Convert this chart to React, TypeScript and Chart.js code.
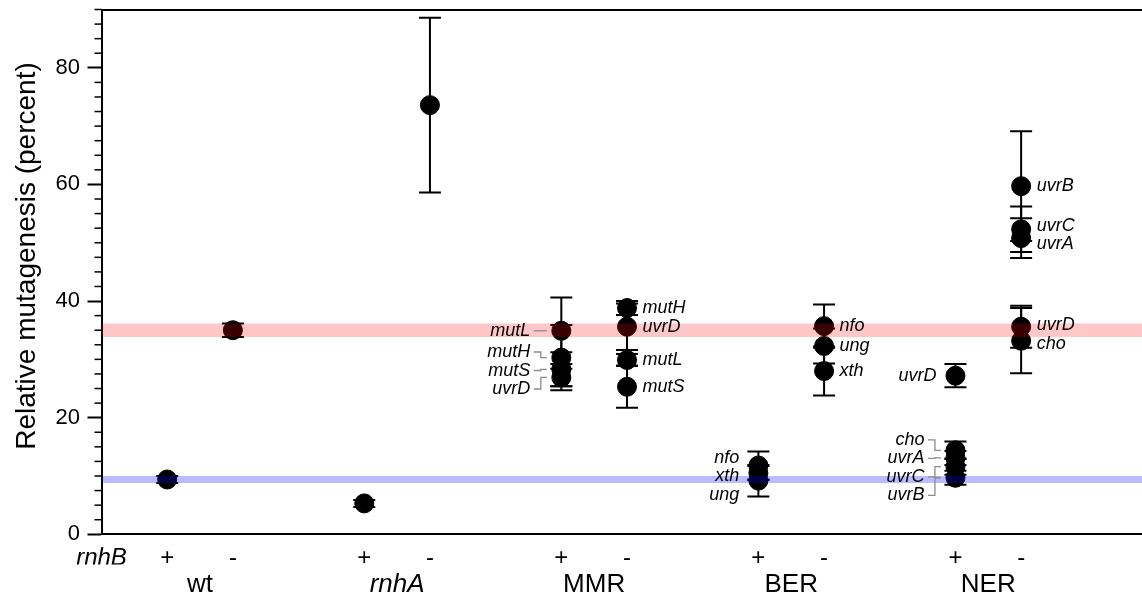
import React, { useEffect, useRef } from 'react';
import { Chart, registerables } from 'chart.js';

Chart.register(...registerables);

// ---------- data ----------
const groups = ['wt', 'rnhA', 'MMR', 'BER', 'NER'];
const italicGroups = ['rnhA'];
const rnhBStates = ['+', '-'];
const rnhBLabel = 'rnhB';
const yTicks = [0, 20, 40, 60, 80];
const yMax = 90;
const yMinorStep = 2.5;
const xMax = 15.84;
const yTitle = 'Relative mutagenesis (percent)';

// values ordered [rnhB+, rnhB-]
const wtMean = [9.4, 35.0];
const wtErr = [0.6, 1.15];
const rnhAMean = [5.3, 73.6];
const rnhAErr = [0.6, 15.0];

const mmrGenes = ['mutH', 'mutL', 'mutS', 'uvrD'];
const mmrPlusMean = [30.3, 34.9, 28.3, 26.9];
const mmrPlusErr = [5.6, 5.7, 2.9, 1.5];
const mmrMinusMean = [38.8, 29.9, 25.3, 35.6];
const mmrMinusErr = [1.2, 1.0, 3.6, 4.0];

const berGenes = ['nfo', 'ung', 'xth'];
const berPlusMean = [11.8, 9.2, 10.5];
const berPlusErr = [2.4, 2.7, 1.2];
const berMinusMean = [35.7, 32.3, 28.0];
const berMinusErr = [3.7, 3.0, 4.2];

const nerGenes = ['cho', 'uvrA', 'uvrB', 'uvrC', 'uvrD'];
const nerPlusMean = [14.4, 13.1, 9.7, 11.6, 27.2];
const nerPlusErr = [1.5, 1.2, 1.2, 1.4, 2.0];
const nerMinusMean = [33.2, 50.8, 59.7, 52.3, 35.6];
const nerMinusErr = [5.6, 3.4, 9.4, 3.9, 3.6];

const leaderColumns = ['MMR+', 'NER+'];

// ---------- derived ----------
const FONT = '"Liberation Sans", Arial, Helvetica, sans-serif';
const slot = (gi: number, si: number) => 1 + 3 * gi + si;

type Col = { id: string; x: number; state: number; genes: string[] | null; mean: number[]; err: number[] };
const columns: Col[] = [];
const addGroup = (gi: number, genes: string[] | null, means: number[][], errs: number[][]) => {
  rnhBStates.forEach((s, si) => {
    columns.push({ id: groups[gi] + s, x: slot(gi, si), state: si, genes, mean: means[si], err: errs[si] });
  });
};
addGroup(0, null, [[wtMean[0]], [wtMean[1]]], [[wtErr[0]], [wtErr[1]]]);
addGroup(1, null, [[rnhAMean[0]], [rnhAMean[1]]], [[rnhAErr[0]], [rnhAErr[1]]]);
addGroup(2, mmrGenes, [mmrPlusMean, mmrMinusMean], [mmrPlusErr, mmrMinusErr]);
addGroup(3, berGenes, [berPlusMean, berMinusMean], [berPlusErr, berMinusErr]);
addGroup(4, nerGenes, [nerPlusMean, nerMinusMean], [nerPlusErr, nerMinusErr]);

const points = columns.flatMap((c) => c.mean.map((m, i) => ({ x: c.x, y: m, err: c.err[i] })));

const xTickValues = [0, ...groups.flatMap((_, gi) => rnhBStates.map((_, si) => slot(gi, si)))];
const xTickLabels = [rnhBLabel, ...groups.flatMap(() => rnhBStates)];
const groupTickValues = groups.map((_, gi) => (slot(gi, 0) + slot(gi, 1)) / 2);

const bandColors = ['rgba(0,0,255,0.27)', 'rgba(255,0,0,0.22)'];

// ---------- plugins ----------
const errorBarPlugin = {
  id: 'errorBars',
  beforeDatasetDraw(chart: any, args: any) {
    if (args.index !== 0) return;
    const { ctx } = chart;
    const xs = chart.scales.x;
    const ys = chart.scales.y;
    ctx.save();
    ctx.strokeStyle = '#000';
    ctx.lineWidth = 2;
    points.forEach((p) => {
      const px = xs.getPixelForValue(p.x);
      const y1 = ys.getPixelForValue(p.y - p.err);
      const y2 = ys.getPixelForValue(p.y + p.err);
      ctx.beginPath();
      ctx.moveTo(px, y1);
      ctx.lineTo(px, y2);
      ctx.moveTo(px - 11, y1);
      ctx.lineTo(px + 11, y1);
      ctx.moveTo(px - 11, y2);
      ctx.lineTo(px + 11, y2);
      ctx.stroke();
    });
    ctx.restore();
  },
};

const decorPlugin = {
  id: 'decor',
  afterDraw(chart: any) {
    const { ctx } = chart;
    const xs = chart.scales.x;
    const ys = chart.scales.y;
    ctx.save();
    // minor ticks
    ctx.strokeStyle = '#000';
    ctx.lineWidth = 1.5;
    for (let v = 0; v <= yMax + 1e-6; v += yMinorStep) {
      if (yTicks.includes(v)) continue;
      const y = ys.getPixelForValue(v);
      ctx.beginPath();
      ctx.moveTo(ys.right - 7, y);
      ctx.lineTo(ys.right, y);
      ctx.stroke();
    }
    // y title
    ctx.save();
    ctx.translate(35, 256);
    ctx.rotate(-Math.PI / 2);
    ctx.font = `28px ${FONT}`;
    ctx.fillStyle = '#000';
    ctx.textAlign = 'center';
    ctx.textBaseline = 'alphabetic';
    ctx.fillText(yTitle, 0, 0);
    ctx.restore();

    // gene labels
    const GAP = 18.5;
    ctx.font = `italic 18px ${FONT}`;
    ctx.textBaseline = 'middle';
    ctx.fillStyle = '#000';
    columns.forEach((col) => {
      if (!col.genes) return;
      const px = xs.getPixelForValue(col.x);
      const left = col.state === 0;
      const items: any[] = col.genes
        .map((g, i) => ({ text: g, py: ys.getPixelForValue(col.mean[i]) }))
        .sort((a, b) => a.py - b.py);
      const place = (b: any) => {
        const n = b.members.length;
        const mean = b.members.reduce((s: number, m: any) => s + m.py, 0) / n;
        b.top = 0.3 * b.members[0].py + 0.7 * (mean - ((n - 1) * GAP) / 2);
      };
      const blocks: any[] = items.map((it) => ({ members: [it] }));
      blocks.forEach(place);
      let merged = true;
      while (merged) {
        merged = false;
        for (let i = 0; i < blocks.length - 1; i++) {
          const a = blocks[i];
          const b = blocks[i + 1];
          const aBottom = a.top + (a.members.length - 1) * GAP;
          if (b.top - aBottom < GAP) {
            a.members = a.members.concat(b.members);
            place(a);
            blocks.splice(i + 1, 1);
            merged = true;
            break;
          }
        }
      }
      blocks.forEach((b) => b.members.forEach((m: any, k: number) => (m.ly = b.top + k * GAP)));
      const useLeader = leaderColumns.includes(col.id);
      items.forEach((it, i) => {
        const near = items.some((o, j) => j !== i && Math.abs(o.py - it.py) < 30);
        const leader = useLeader && near;
        if (left) {
          ctx.textAlign = 'right';
          ctx.fillText(it.text, px - (leader ? 31 : 19), it.ly);
          if (leader) {
            ctx.strokeStyle = '#8c8c8c';
            ctx.lineWidth = 1.3;
            ctx.beginPath();
            ctx.moveTo(px - 27.5, it.ly);
            ctx.lineTo(px - 20.5, it.ly);
            ctx.lineTo(px - 20.5, it.py);
            ctx.lineTo(px - 14.5, it.py);
            ctx.stroke();
          }
        } else {
          ctx.textAlign = 'left';
          ctx.fillText(it.text, px + 15.5, it.ly);
        }
      });
    });
    ctx.restore();
  },
};

export default function App() {
  const ref = useRef<HTMLCanvasElement | null>(null);
  useEffect(() => {
    if (!ref.current) return;
    Chart.defaults.font.family = FONT;
    Chart.defaults.color = '#000';
    const bandDatasets = wtMean.flatMap((m, si) => [
      {
        type: 'line' as const,
        data: [{ x: 0, y: m - wtErr[si] }, { x: xMax, y: m - wtErr[si] }],
        borderWidth: 0,
        pointRadius: 0,
        fill: false,
        order: 1,
      },
      {
        type: 'line' as const,
        data: [{ x: 0, y: m + wtErr[si] }, { x: xMax, y: m + wtErr[si] }],
        borderWidth: 0,
        pointRadius: 0,
        fill: '-1',
        backgroundColor: bandColors[si],
        order: 1,
      },
    ]);
    const chart = new Chart(ref.current, {
      type: 'scatter',
      data: {
        datasets: [
          {
            data: points.map((p) => ({ x: p.x, y: p.y })),
            pointRadius: 9.5,
            pointBorderWidth: 1,
            backgroundColor: '#000',
            borderColor: '#000',
            order: 2,
          } as any,
          ...(bandDatasets as any[]),
        ],
      },
      options: {
        animation: false,
        responsive: false,
        devicePixelRatio: 1,
        layout: { autoPadding: false, padding: { top: 9.5, left: 0, right: 0, bottom: 0 } },
        plugins: {
          legend: { display: false },
          tooltip: { enabled: false },
          filler: { drawTime: 'beforeDatasetDraw' },
        } as any,
        scales: {
          x: {
            type: 'linear',
            position: 'bottom',
            weight: 0,
            min: 0,
            max: xMax,
            bounds: 'data',
            grid: { display: false, drawTicks: false },
            border: { display: true, color: '#000', width: 2 },
            afterBuildTicks: (s: any) => {
              s.ticks = xTickValues.map((v) => ({ value: v }));
            },
            afterFit: (s: any) => {
              s.height = 30.2;
              s.paddingLeft = 0;
              s.paddingRight = 0;
            },
            ticks: {
              autoSkip: false,
              maxRotation: 0,
              padding: 10,
              color: '#000',
              font: (c: any) => ({
                size: 24,
                style: c.tick && c.tick.value === 0 ? 'italic' : 'normal',
                lineHeight: 1.2,
              }),
              callback: (_v: any, i: number) => xTickLabels[i],
            },
          },
          xg: {
            type: 'linear',
            position: 'bottom',
            weight: 1,
            min: 0,
            max: xMax,
            bounds: 'data',
            grid: { display: false, drawTicks: false },
            border: { display: false },
            afterBuildTicks: (s: any) => {
              s.ticks = groupTickValues.map((v) => ({ value: v }));
            },
            afterFit: (s: any) => {
              s.height = 31.5;
              s.paddingLeft = 0;
              s.paddingRight = 0;
            },
            ticks: {
              autoSkip: false,
              maxRotation: 0,
              padding: 5,
              color: '#000',
              font: (c: any) => ({
                size: 26,
                style: c.index !== undefined && italicGroups.includes(groups[c.index]) ? 'italic' : 'normal',
                lineHeight: 1.2,
              }),
              callback: (_v: any, i: number) => groups[i],
            },
          },
          xTop: {
            type: 'linear',
            position: 'top',
            min: 0,
            max: xMax,
            grid: { display: false, drawTicks: false },
            border: { display: true, color: '#000', width: 2 },
            ticks: { display: false },
            afterFit: (s: any) => {
              s.height = 0;
              s.paddingLeft = 0;
              s.paddingRight = 0;
            },
          },
          y: {
            type: 'linear',
            position: 'left',
            min: 0,
            max: yMax,
            bounds: 'data',
            grid: {
              display: true,
              drawOnChartArea: false,
              drawTicks: true,
              tickLength: 14,
              tickWidth: 2,
              tickColor: '#000',
            },
            border: { display: true, color: '#000', width: 2 },
            afterBuildTicks: (s: any) => {
              s.ticks = yTicks.map((v) => ({ value: v }));
            },
            afterFit: (s: any) => {
              s.width = 101.5;
              s.paddingTop = 0;
              s.paddingBottom = 0;
            },
            ticks: {
              padding: 7.5,
              color: '#000',
              font: { size: 22 },
            },
          },
        } as any,
      },
      plugins: [errorBarPlugin, decorPlugin],
    });
    return () => chart.destroy();
  }, []);

  return (
    <div
      style={{
        position: 'fixed',
        left: 0,
        top: 0,
        width: 1142,
        height: 596,
        overflow: 'hidden',
        background: '#fff',
      }}
    >
      <canvas ref={ref} width={1142} height={596} style={{ display: 'block' }} />
    </div>
  );
}
